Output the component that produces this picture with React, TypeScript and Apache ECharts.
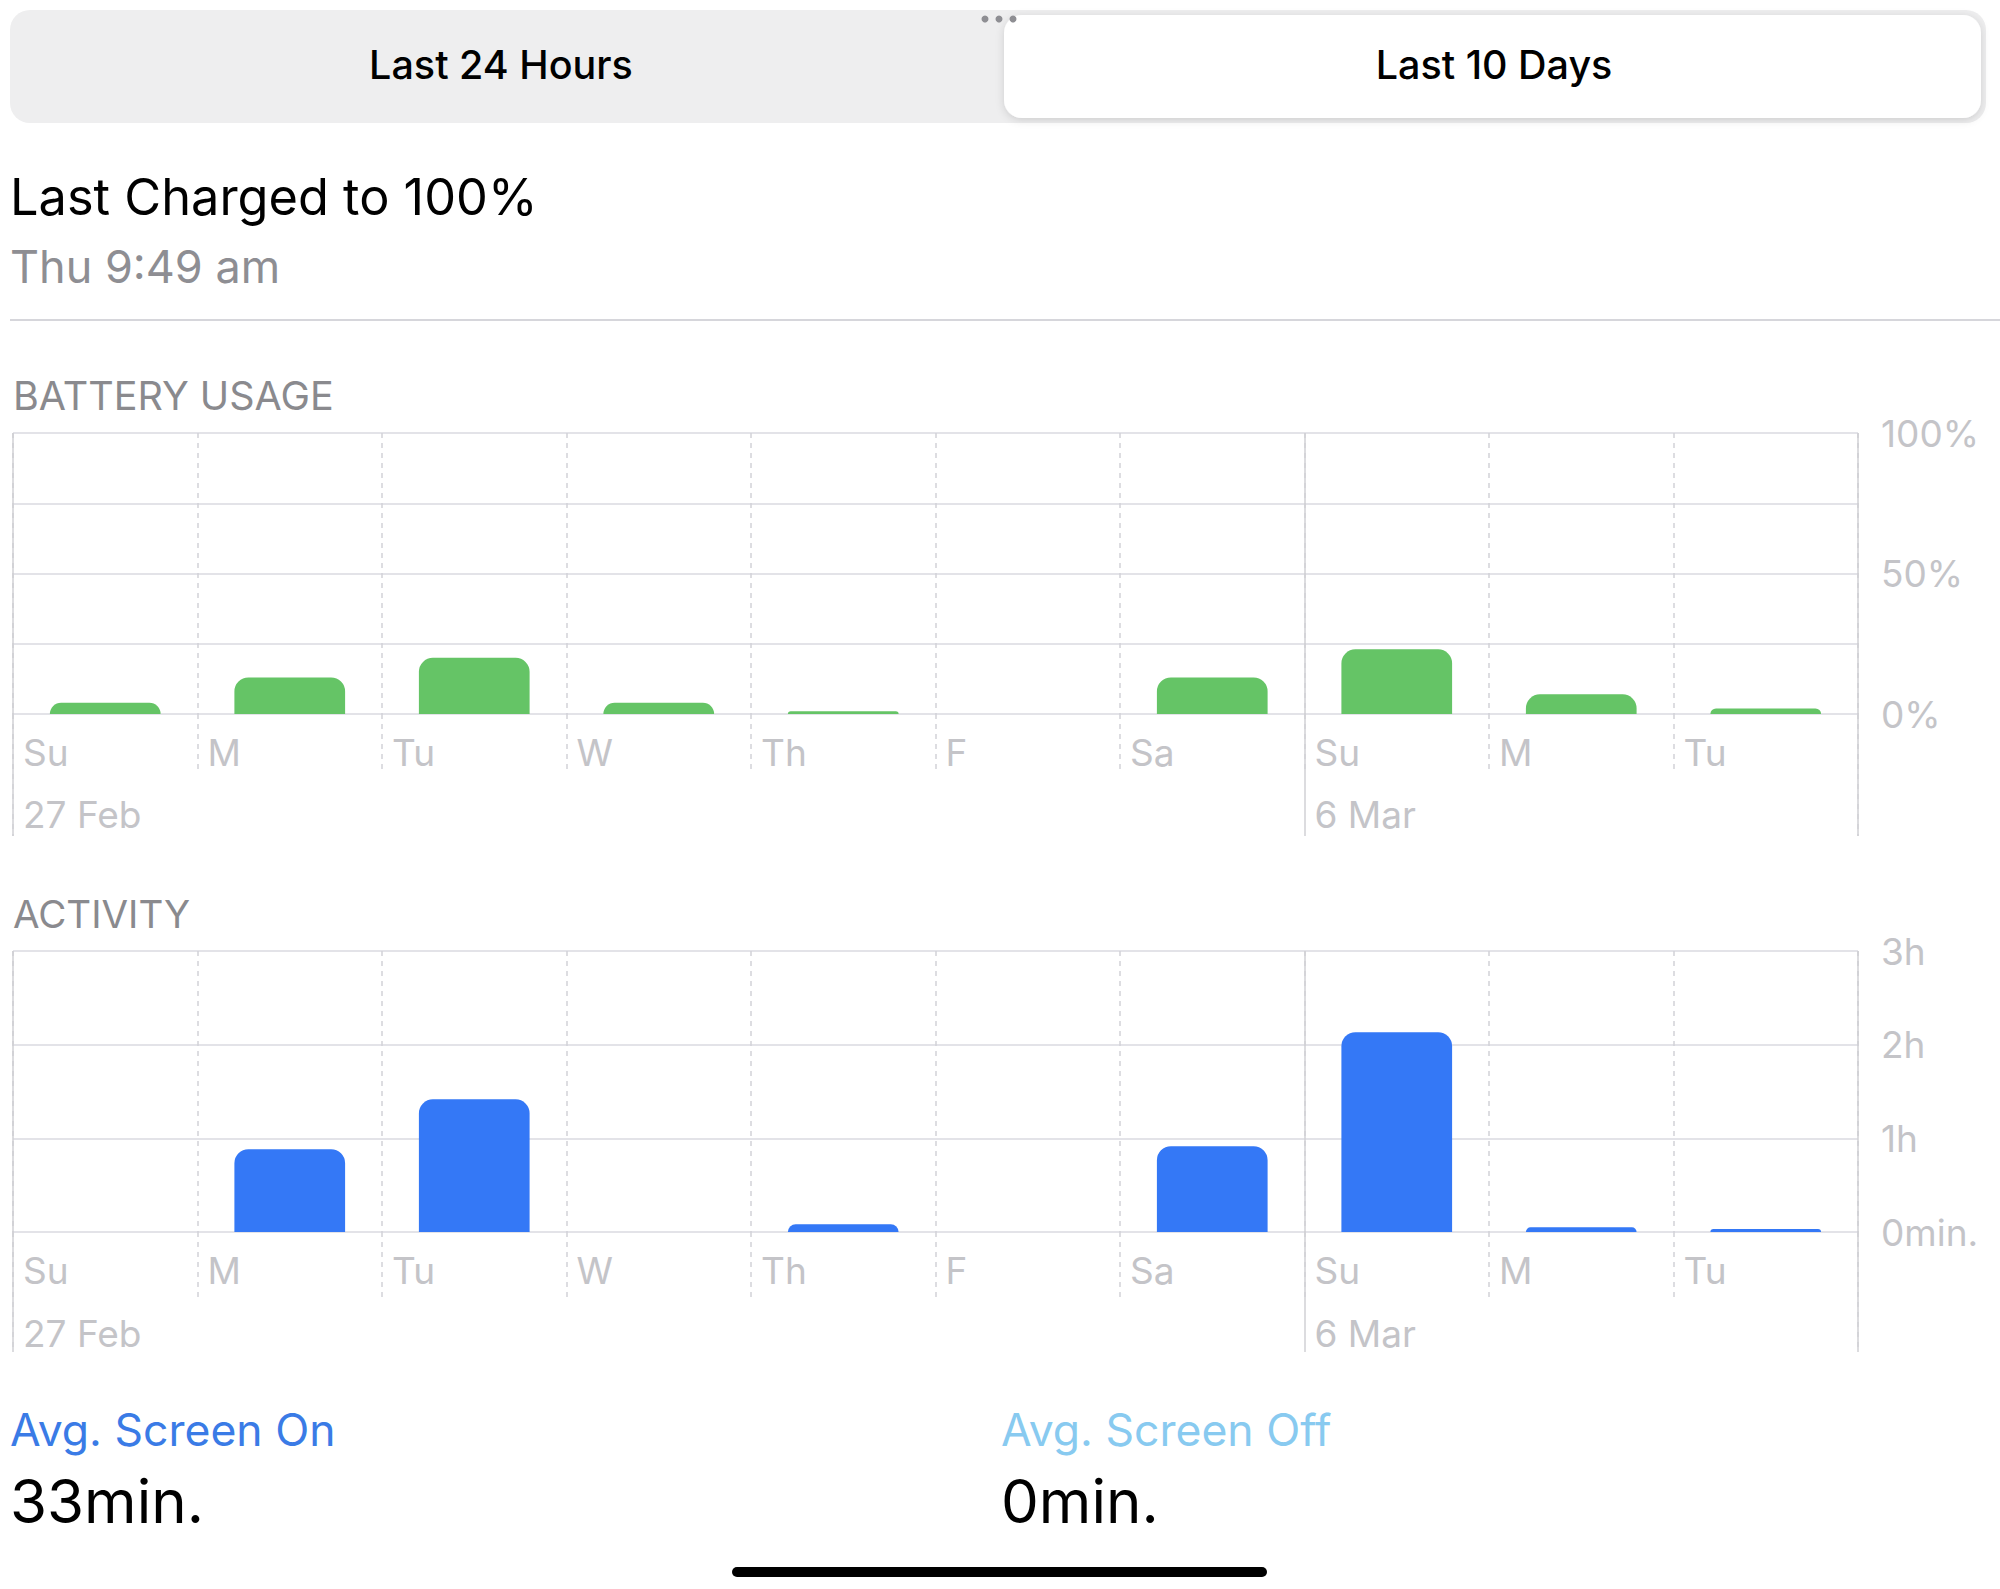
import React, { useEffect, useRef } from "react";
import * as echarts from "echarts";

// ---- data ----
const dayLabels = ["Su", "M", "Tu", "W", "Th", "F", "Sa", "Su", "M", "Tu"];
const dateLabels: Record<number, string> = { 0: "27 Feb", 7: "6 Mar" };
const batteryUsage = [4, 13, 20, 4, 1, 0, 13, 23, 7, 2]; // percent
const activityMinutes = [0, 53, 85, 0, 5, 0, 55, 128, 3, 2]; // minutes screen on
const batteryTicks: Record<number, string> = { 0: "0%", 50: "50%", 100: "100%" };
const activityTicks: Record<number, string> = { 0: "0min.", 60: "1h", 120: "2h", 180: "3h" };

const FONT = "Inter, Roboto, sans-serif";
const GREEN = "#65C466";
const BLUE = "#3478F6";
const H_LINE = "#e3e3e8";
const V_LINE = "#d2d2d7";
const LABEL = "#c4c4c8";

function gridAxes(gridIndex: number, shortLen: number, longLen: number, dayMargin: number, dateMargin: number) {
  return [
    // category axis for the bars
    { type: "category", gridIndex, data: dayLabels, show: false, boundaryGap: true },
    // day separators (dashed) with day labels
    {
      type: "value", gridIndex, min: 0, max: 10, interval: 1, position: "bottom",
      axisLine: { show: false },
      axisTick: { show: true, inside: false, length: shortLen, lineStyle: { color: V_LINE, width: 1.5, type: [5, 5] } },
      splitLine: { show: true, lineStyle: { color: V_LINE, width: 1.5, type: [5, 5] } },
      axisLabel: {
        show: true, margin: dayMargin, align: "left", padding: [0, 0, 0, 10],
        color: LABEL, fontSize: 37, fontFamily: FONT,
        formatter: (v: number) => dayLabels[v] ?? "",
      },
    },
    // right edge long dashed
    {
      type: "value", gridIndex, min: 0, max: 10, interval: 10, position: "bottom",
      axisLine: { show: false },
      axisTick: { show: true, length: longLen, lineStyle: { color: V_LINE, width: 1.5, type: [5, 5] } },
      splitLine: { show: true, lineStyle: { color: V_LINE, width: 1.5, type: [5, 5] } },
      axisLabel: { show: false },
    },
    // week boundaries (solid) with date labels
    {
      type: "value", gridIndex, min: 0, max: 10, interval: 7, position: "bottom",
      axisLine: { show: false },
      axisTick: { show: true, length: longLen, lineStyle: { color: "#d0d0d5", width: 1.5 } },
      splitLine: { show: true, lineStyle: { color: "#d0d0d5", width: 1.5 } },
      axisLabel: {
        show: true, margin: dateMargin, align: "left", padding: [0, 0, 0, 10],
        color: LABEL, fontSize: 37, fontFamily: FONT,
        formatter: (v: number) => dateLabels[v] ?? "",
      },
    },
  ];
}

export default function App() {
  const ref = useRef<HTMLDivElement>(null);

  useEffect(() => {
    if (!ref.current) return;
    const chart = echarts.init(ref.current, undefined, { renderer: "svg" });

    const xAxes = [
      ...gridAxes(0, 58, 122, 20, 82),
      ...gridAxes(1, 65, 120, 20, 83),
    ];

    const option: any = {
      animation: false,
      backgroundColor: "#ffffff",
      textStyle: { fontFamily: FONT },
      grid: [
        { left: 13, right: 142, top: 433, bottom: 875, containLabel: false },
        { left: 13, right: 142, top: 951, bottom: 357, containLabel: false },
      ],
      xAxis: xAxes,
      yAxis: [
        {
          type: "value", gridIndex: 0, min: 0, max: 100, interval: 25, position: "right",
          axisLine: { show: false }, axisTick: { show: false },
          splitLine: { show: true, lineStyle: { color: H_LINE, width: 2 } },
          axisLabel: {
            margin: 23, color: LABEL, fontSize: 37, fontFamily: FONT, align: "left",
            formatter: (v: number) => batteryTicks[v] ?? "",
          },
        },
        {
          type: "value", gridIndex: 1, min: 0, max: 180, interval: 60, position: "right",
          axisLine: { show: false }, axisTick: { show: false },
          splitLine: { show: true, lineStyle: { color: H_LINE, width: 2 } },
          axisLabel: {
            margin: 23, color: LABEL, fontSize: 37, fontFamily: FONT, align: "left",
            formatter: (v: number) => activityTicks[v] ?? "",
          },
        },
      ],
      series: [
        {
          name: "Battery Usage", type: "bar", xAxisIndex: 0, yAxisIndex: 0,
          data: batteryUsage, barWidth: "60%",
          itemStyle: { color: GREEN, borderRadius: [14, 14, 0, 0] },
          z: 5,
        },
        {
          name: "Activity", type: "bar", xAxisIndex: 4, yAxisIndex: 1,
          data: activityMinutes, barWidth: "60%",
          itemStyle: { color: BLUE, borderRadius: [14, 14, 0, 0] },
          z: 5,
        },
      ],
      graphic: [
        // segmented control
        { type: "rect", shape: { x: 10, y: 10, width: 1976, height: 113, r: 20 }, style: { fill: "#eeeeef" }, z: 0 },
        {
          type: "rect", shape: { x: 1004, y: 15, width: 977, height: 103, r: 18 },
          style: { fill: "#ffffff", shadowBlur: 8, shadowColor: "rgba(0,0,0,0.14)", shadowOffsetY: 2 }, z: 1,
        },
        { type: "circle", shape: { cx: 985, cy: 19, r: 3.5 }, style: { fill: "#8e8e93" }, z: 2 },
        { type: "circle", shape: { cx: 999, cy: 19, r: 3.5 }, style: { fill: "#8e8e93" }, z: 2 },
        { type: "circle", shape: { cx: 1013, cy: 19, r: 3.5 }, style: { fill: "#8e8e93" }, z: 2 },
        {
          type: "text", x: 501, y: 65, z: 2,
          style: { text: "Last 24 Hours", fill: "#000", font: `500 39.5px ${FONT}`, align: "center", verticalAlign: "middle" },
        },
        {
          type: "text", x: 1494, y: 65, z: 2,
          style: { text: "Last 10 Days", fill: "#000", font: `500 39.5px ${FONT}`, align: "center", verticalAlign: "middle" },
        },
        // header
        {
          type: "text", x: 10, y: 196,
          style: { text: "Last Charged to 100%", fill: "#000", font: `400 50.5px ${FONT}`, verticalAlign: "middle" },
        },
        {
          type: "text", x: 10, y: 266,
          style: { text: "Thu 9:49 am", fill: "#8e8e93", font: `400 45px ${FONT}`, verticalAlign: "middle" },
        },
        { type: "line", shape: { x1: 10, y1: 320, x2: 2000, y2: 320 }, style: { stroke: "#d6d6db", lineWidth: 2 } },
        // section titles
        {
          type: "text", x: 13, y: 396,
          style: { text: "BATTERY USAGE", fill: "#8a8a8e", font: `400 39.5px ${FONT}`, verticalAlign: "middle" },
        },
        {
          type: "text", x: 13, y: 914,
          style: { text: "ACTIVITY", fill: "#8a8a8e", font: `400 38.5px ${FONT}`, verticalAlign: "middle" },
        },
        // footer
        {
          type: "text", x: 10, y: 1430,
          style: { text: "Avg. Screen On", fill: "#3a7be6", font: `400 44.5px ${FONT}`, verticalAlign: "middle" },
        },
        {
          type: "text", x: 1001, y: 1430,
          style: { text: "Avg. Screen Off", fill: "#88caf0", font: `400 44.5px ${FONT}`, verticalAlign: "middle" },
        },
        {
          type: "text", x: 10, y: 1501,
          style: { text: "33min.", fill: "#000", font: `400 60px ${FONT}`, verticalAlign: "middle" },
        },
        {
          type: "text", x: 1001, y: 1501,
          style: { text: "0min.", fill: "#000", font: `400 60px ${FONT}`, verticalAlign: "middle" },
        },
        { type: "rect", shape: { x: 732, y: 1567, width: 535, height: 10, r: 5 }, style: { fill: "#000" } },
      ],
    };

    chart.setOption(option);
    return () => chart.dispose();
  }, []);

  return (
    <div
      ref={ref}
      style={{ position: "absolute", left: 0, top: 0, width: 2000, height: 1589, background: "#fff" }}
    />
  );
}
